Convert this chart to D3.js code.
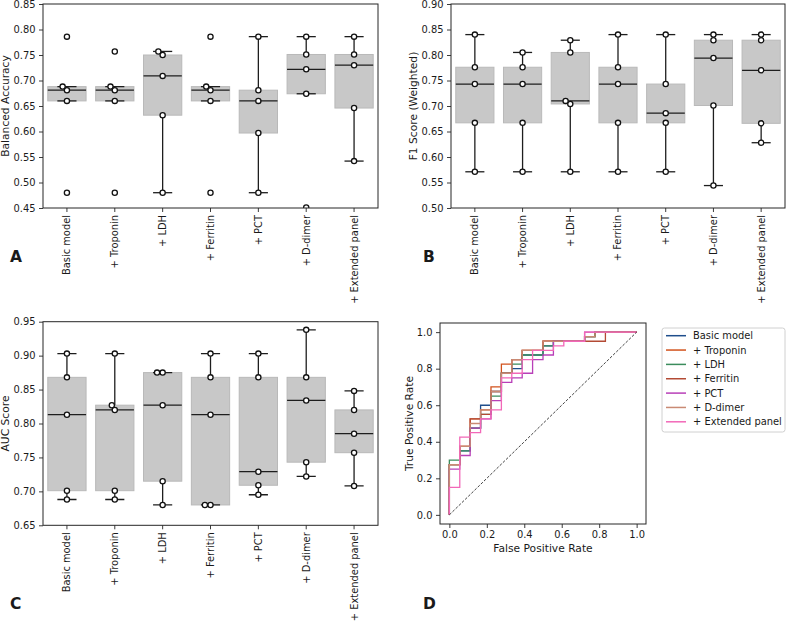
<!DOCTYPE html>
<html><head><meta charset="utf-8">
<script src="https://cdn.jsdelivr.net/npm/d3@7"></script>
<style>
body{margin:0;background:#fff}
svg{display:block}
text{font-family:"DejaVu Sans",sans-serif;fill:#1a1a1a}
</style>
</head><body>
<svg id="chart" width="787" height="621"></svg>
<script>
// ---------------- DATA ----------------
const categories = ["Basic model", "+ Troponin", "+ LDH", "+ Ferritin", "+ PCT", "+ D-dimer", "+ Extended panel"];

// per-fold scores (5 folds) for each model
const balancedAccuracy = [
  [0.786, 0.688, 0.681, 0.660, 0.480],
  [0.757, 0.688, 0.681, 0.660, 0.480],
  [0.757, 0.750, 0.709, 0.632, 0.480],
  [0.786, 0.688, 0.681, 0.660, 0.480],
  [0.786, 0.681, 0.660, 0.597, 0.480],
  [0.786, 0.751, 0.722, 0.674, 0.451],
  [0.786, 0.751, 0.730, 0.646, 0.542]
];
const f1Weighted = [
  [0.840, 0.776, 0.743, 0.667, 0.571],
  [0.805, 0.776, 0.743, 0.667, 0.571],
  [0.829, 0.805, 0.710, 0.704, 0.571],
  [0.840, 0.776, 0.743, 0.667, 0.571],
  [0.840, 0.743, 0.686, 0.667, 0.571],
  [0.840, 0.829, 0.794, 0.701, 0.544],
  [0.840, 0.829, 0.770, 0.666, 0.628]
];
const aucScore = [
  [0.903, 0.868, 0.813, 0.701, 0.688],
  [0.903, 0.827, 0.820, 0.701, 0.688],
  [0.875, 0.875, 0.827, 0.715, 0.680],
  [0.903, 0.868, 0.813, 0.680, 0.680],
  [0.903, 0.868, 0.729, 0.709, 0.695],
  [0.938, 0.868, 0.834, 0.743, 0.722],
  [0.848, 0.820, 0.785, 0.757, 0.708]
];

const ticksA = [0.45, 0.50, 0.55, 0.60, 0.65, 0.70, 0.75, 0.80, 0.85];
const ticksB = [0.50, 0.55, 0.60, 0.65, 0.70, 0.75, 0.80, 0.85, 0.90];
const ticksC = [0.65, 0.70, 0.75, 0.80, 0.85, 0.90, 0.95];
const ticksROC = [0.0, 0.2, 0.4, 0.6, 0.8, 1.0];

// ROC curves (pooled test predictions)
const rocModels = ["Basic model", "+ Troponin", "+ LDH", "+ Ferritin", "+ PCT", "+ D-dimer", "+ Extended panel"];
const rocColors = ["#1f4e8c", "#d2521c", "#3b8c5c", "#b34a34", "#b83fb8", "#c98a74", "#f268b8"];
const rocFpr = [
  [0, 0, 0.0556, 0.0556, 0.1111, 0.1111, 0.1667, 0.1667, 0.2222, 0.2222, 0.2778, 0.2778, 0.3333, 0.3333, 0.3889, 0.3889, 0.5, 0.5, 0.5556, 0.5556, 0.7222, 0.7222, 0.7778, 0.7778, 1],
  [0, 0, 0.0556, 0.0556, 0.1111, 0.1111, 0.1667, 0.1667, 0.2222, 0.2222, 0.2778, 0.2778, 0.3333, 0.3333, 0.3889, 0.3889, 0.5, 0.5, 0.7222, 0.7222, 0.7778, 0.7778, 1],
  [0, 0, 0.0556, 0.0556, 0.1111, 0.1111, 0.1667, 0.1667, 0.2222, 0.2222, 0.2778, 0.2778, 0.3333, 0.3333, 0.3889, 0.3889, 0.5, 0.5, 0.5556, 0.5556, 0.7222, 0.7222, 0.7778, 0.7778, 1],
  [0, 0, 0.0556, 0.0556, 0.1111, 0.1111, 0.1667, 0.1667, 0.2222, 0.2222, 0.2778, 0.2778, 0.3333, 0.3333, 0.3889, 0.3889, 0.5, 0.5, 0.8333, 0.8333, 1],
  [0, 0, 0.0556, 0.0556, 0.1111, 0.1111, 0.1667, 0.1667, 0.2222, 0.2222, 0.2778, 0.2778, 0.3333, 0.3333, 0.3889, 0.3889, 0.4444, 0.4444, 0.5, 0.5, 0.5556, 0.5556, 0.7222, 0.7222, 1],
  [0, 0, 0.0556, 0.0556, 0.1111, 0.1111, 0.1667, 0.1667, 0.2222, 0.2222, 0.2778, 0.2778, 0.3333, 0.3333, 0.3889, 0.3889, 0.5, 0.5, 0.7222, 0.7222, 0.7778, 0.7778, 1],
  [0, 0, 0.0556, 0.0556, 0.1111, 0.1111, 0.1667, 0.1667, 0.2222, 0.2222, 0.2778, 0.2778, 0.3333, 0.3333, 0.3889, 0.3889, 0.4444, 0.4444, 0.5556, 0.5556, 0.6111, 0.6111, 0.7222, 0.7222, 1]
];
const rocTpr = [
  [0, 0.275, 0.275, 0.35, 0.35, 0.475, 0.475, 0.6, 0.6, 0.675, 0.675, 0.775, 0.775, 0.8, 0.8, 0.875, 0.875, 0.925, 0.925, 0.95, 0.95, 0.975, 0.975, 1, 1],
  [0, 0.275, 0.275, 0.375, 0.375, 0.525, 0.525, 0.575, 0.575, 0.7, 0.7, 0.825, 0.825, 0.85, 0.85, 0.9, 0.9, 0.95, 0.95, 0.975, 0.975, 1, 1],
  [0, 0.3, 0.3, 0.35, 0.35, 0.475, 0.475, 0.55, 0.55, 0.65, 0.65, 0.775, 0.775, 0.825, 0.825, 0.875, 0.875, 0.925, 0.925, 0.95, 0.95, 0.975, 0.975, 1, 1],
  [0, 0.275, 0.275, 0.375, 0.375, 0.525, 0.525, 0.55, 0.55, 0.675, 0.675, 0.775, 0.775, 0.85, 0.85, 0.9, 0.9, 0.95, 0.95, 1, 1],
  [0, 0.25, 0.25, 0.325, 0.325, 0.475, 0.475, 0.525, 0.525, 0.625, 0.625, 0.725, 0.725, 0.75, 0.75, 0.775, 0.775, 0.85, 0.85, 0.875, 0.875, 0.95, 0.95, 1, 1],
  [0, 0.275, 0.275, 0.375, 0.375, 0.5, 0.5, 0.575, 0.575, 0.675, 0.675, 0.775, 0.775, 0.85, 0.85, 0.9, 0.9, 0.95, 0.95, 0.975, 0.975, 1, 1],
  [0, 0.15, 0.15, 0.425, 0.425, 0.45, 0.45, 0.525, 0.525, 0.575, 0.575, 0.75, 0.75, 0.775, 0.775, 0.85, 0.85, 0.9, 0.9, 0.925, 0.925, 0.95, 0.95, 1, 1]
];

// ---------------- DRAWING ----------------
const svg = d3.select("#chart");
const TICK_FONT = 9.9;
const LABEL_FONT = 10.7;
const axisColor = "#262626";

function frame(g, x0, x1, y0, y1) {
  g.append("rect").attr("x", x0).attr("y", y0).attr("width", x1 - x0).attr("height", y1 - y0)
    .attr("fill", "none").attr("stroke", axisColor).attr("stroke-width", 1);
}

function styleAxis(sel) {
  sel.select(".domain").remove();
  sel.selectAll(".tick line").attr("stroke", axisColor).attr("stroke-width", 0.9);
  sel.selectAll(".tick text").attr("font-size", TICK_FONT).attr("fill", "#1a1a1a")
    .attr("font-family", "DejaVu Sans, sans-serif");
}

let clipId = 0;
function boxPanel(cfg) {
  const { x0, x1, y0, y1, domain, ticks, data, ylabel, ylabelX, letter, letterX, letterY } = cfg;
  const g = svg.append("g");
  const x = d3.scaleBand().domain(categories).range([x0, x1]).paddingInner(0).paddingOuter(0);
  const y = d3.scaleLinear().domain(domain).range([y1, y0]);
  const bw = x.bandwidth() * 0.8;

  const cid = "clip" + (clipId++);
  svg.append("clipPath").attr("id", cid).append("rect")
    .attr("x", x0).attr("y", y0).attr("width", x1 - x0).attr("height", y1 - y0);

  const marks = g.append("g").attr("clip-path", `url(#${cid})`);

  categories.forEach((c, i) => {
    const vals = data[i].slice().sort(d3.ascending);
    const q1 = d3.quantile(vals, 0.25), med = d3.quantile(vals, 0.5), q3 = d3.quantile(vals, 0.75);
    const iqr = q3 - q1;
    const lo = d3.min(vals.filter(v => v >= q1 - 1.5 * iqr));
    const hi = d3.max(vals.filter(v => v <= q3 + 1.5 * iqr));
    const cx = x(c) + x.bandwidth() / 2;
    marks.append("rect").attr("x", cx - bw / 2).attr("y", y(q3)).attr("width", bw)
      .attr("height", Math.max(0.5, y(q1) - y(q3)))
      .attr("fill", "#c8c8c8").attr("stroke", "#b9b9b9").attr("stroke-width", 1);
    const wk = marks.append("g").attr("stroke", "#1e1e1e").attr("stroke-width", 1.3);
    wk.append("line").attr("x1", cx).attr("x2", cx).attr("y1", y(q3)).attr("y2", y(hi));
    wk.append("line").attr("x1", cx).attr("x2", cx).attr("y1", y(q1)).attr("y2", y(lo));
    wk.append("line").attr("x1", cx - bw / 4).attr("x2", cx + bw / 4).attr("y1", y(hi)).attr("y2", y(hi));
    wk.append("line").attr("x1", cx - bw / 4).attr("x2", cx + bw / 4).attr("y1", y(lo)).attr("y2", y(lo));
    marks.append("line").attr("x1", cx - bw / 2).attr("x2", cx + bw / 2).attr("y1", y(med)).attr("y2", y(med))
      .attr("stroke", "#1e1e1e").attr("stroke-width", 1.3);

    // swarm placement
    const D = 5.6;
    const raw = data[i];
    const order = raw.map((v, k) => k).sort((a, b) => raw[a] - raw[b]);
    const placed = [];
    order.forEach(k => {
      const py = y(raw[k]);
      const cands = [0];
      placed.forEach(p => {
        const dy = Math.abs(p.y - py);
        if (dy < D) { const dx = Math.sqrt(D * D - dy * dy); cands.push(p.x - dx, p.x + dx); }
      });
      const ok = cands.filter(cx2 => placed.every(p => Math.hypot(p.x - cx2, p.y - py) >= D - 1e-6));
      ok.sort((a, b) => Math.abs(a) - Math.abs(b) || a - b);
      placed.push({ x: ok[0], y: py, v: raw[k] });
    });
    marks.selectAll(null).data(placed).enter().append("circle")
      .attr("cx", d => cx + d.x).attr("cy", d => y(d.v)).attr("r", 2.6)
      .attr("fill", "#fff").attr("stroke", "#111").attr("stroke-width", 1.3);
  });

  const ya = g.append("g").attr("transform", `translate(${x0},0)`)
    .call(d3.axisLeft(y).tickValues(ticks).tickFormat(d3.format(".2f")).tickSizeOuter(0).tickSize(4).tickPadding(3.5));
  styleAxis(ya);
  const xa = g.append("g").attr("transform", `translate(0,${y1})`)
    .call(d3.axisBottom(x).tickSizeOuter(0).tickSize(4).tickPadding(3));
  styleAxis(xa);
  xa.selectAll(".tick text")
    .attr("transform", "rotate(-90)").attr("text-anchor", "end")
    .attr("x", -7).attr("y", 0).attr("dy", "0.35em");
  frame(g, x0, x1, y0, y1);

  g.append("text").attr("transform", `translate(${ylabelX},${(y0 + y1) / 2}) rotate(-90)`)
    .attr("text-anchor", "middle").attr("dy", "0.35em").attr("font-size", LABEL_FONT).text(ylabel);
  g.append("text").attr("x", letterX).attr("y", letterY).attr("font-size", 15.5)
    .attr("font-weight", "bold").text(letter);
}

boxPanel({ x0: 43, x1: 378, y0: 4, y1: 208, domain: [0.45, 0.85], ticks: ticksA, data: balancedAccuracy,
  ylabel: "Balanced Accuracy", ylabelX: 5.5, letter: "A", letterX: 10, letterY: 262 });
boxPanel({ x0: 451, x1: 785, y0: 4, y1: 208, domain: [0.50, 0.90], ticks: ticksB, data: f1Weighted,
  ylabel: "F1 Score (Weighted)", ylabelX: 413, letter: "B", letterX: 423, letterY: 262 });
boxPanel({ x0: 43, x1: 378, y0: 321.7, y1: 525.3, domain: [0.65, 0.95], ticks: ticksC, data: aucScore,
  ylabel: "AUC Score", ylabelX: 5.5, letter: "C", letterX: 10, letterY: 608.5 });

// ---------------- ROC panel ----------------
(function () {
  const x0 = 440, x1 = 646, y0 = 323, y1 = 524;
  const g = svg.append("g");
  const x = d3.scaleLinear().domain([-0.05, 1.05]).range([x0, x1]);
  const y = d3.scaleLinear().domain([-0.05, 1.05]).range([y1, y0]);
  const line = d3.line().x(d => x(d[0])).y(d => y(d[1]));

  rocModels.forEach((m, i) => {
    const pts = rocFpr[i].map((f, k) => [f, rocTpr[i][k]]);
    g.append("path").attr("d", line(pts)).attr("fill", "none")
      .attr("stroke", rocColors[i]).attr("stroke-width", 1.3).attr("stroke-linejoin", "miter");
  });
  g.append("path").attr("d", line([[0, 0], [1, 1]])).attr("fill", "none")
    .attr("stroke", "#111").attr("stroke-width", 0.8).attr("stroke-dasharray", "2.8,1.6");

  const xa = g.append("g").attr("transform", `translate(0,${y1})`)
    .call(d3.axisBottom(x).tickValues(ticksROC).tickFormat(d3.format(".1f")).tickSize(4).tickPadding(3));
  styleAxis(xa);
  const ya = g.append("g").attr("transform", `translate(${x0},0)`)
    .call(d3.axisLeft(y).tickValues(ticksROC).tickFormat(d3.format(".1f")).tickSize(4).tickPadding(3.5));
  styleAxis(ya);
  frame(g, x0, x1, y0, y1);

  g.append("text").attr("x", (x0 + x1) / 2).attr("y", 551.5).attr("text-anchor", "middle")
    .attr("font-size", LABEL_FONT).text("False Positive Rate");
  g.append("text").attr("transform", `translate(409,${(y0 + y1) / 2}) rotate(-90)`)
    .attr("text-anchor", "middle").attr("dy", "0.35em").attr("font-size", LABEL_FONT).text("True Positive Rate");
  g.append("text").attr("x", 423).attr("y", 608.5).attr("font-size", 15.5)
    .attr("font-weight", "bold").text("D");

  // legend
  const lg = svg.append("g");
  lg.append("rect").attr("x", 662).attr("y", 328).attr("width", 123).attr("height", 104)
    .attr("rx", 2.5).attr("fill", "#fff").attr("stroke", "#d0d0d0").attr("stroke-width", 1);
  rocModels.forEach((m, i) => {
    const ly = 335.7 + i * 14.35;
    lg.append("line").attr("x1", 666).attr("x2", 686).attr("y1", ly).attr("y2", ly)
      .attr("stroke", rocColors[i]).attr("stroke-width", 1.5);
    lg.append("text").attr("x", 693).attr("y", ly).attr("dy", "0.35em").attr("font-size", TICK_FONT).text(m);
  });
})();
</script>
</body></html>
